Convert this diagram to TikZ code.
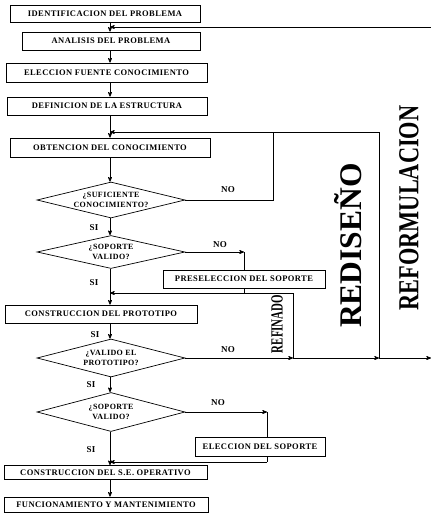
\documentclass[tikz,border=0pt]{standalone}
\usepackage{fontspec}
\setmainfont{Liberation Serif}
\newfontfamily\scanfont[LetterSpace=5]{Liberation Serif}
\usetikzlibrary{arrows,positioning,shapes,calc}

\begin{document}
\begin{tikzpicture}[->,>=stealth',x=1pt,y=-1pt,line width=0.7pt,
                    font=\scanfont\bfseries\fontsize{8.5}{9}\selectfont]
  \tikzstyle{etapa}=[draw,rectangle,inner sep=0pt,minimum height=18pt]
  \tikzstyle{pregunta}=[draw,diamond,aspect=4,inner sep=-3pt,minimum width=148pt,
                        minimum height=36pt,align=center,
                        font=\scanfont\bfseries\fontsize{8}{9.5}\selectfont]
  \tikzstyle{rotulo}=[inner sep=0pt,font=\scanfont\bfseries\fontsize{9}{9}\selectfont]
  \tikzstyle{lazo}=[inner sep=0pt,rotate=90]

  \useasboundingbox (0,0) rectangle (431,517);
  \coordinate (eje) at (110,0);

  % etapas y preguntas
  \node[etapa,minimum width=190pt,minimum height=17pt] (ident)      at (105,13.5)  {IDENTIFICACION DEL PROBLEMA};
  \node[etapa,minimum width=178pt]                     (analisis)   at (111,41)    {ANALISIS DEL PROBLEMA};
  \node[etapa,minimum width=201pt,minimum height=19pt] (fuente)     at (106.5,72.5){ELECCION FUENTE CONOCIMIENTO};
  \node[etapa,minimum width=200pt]                     (estructura) at (107,106)   {DEFINICION DE LA ESTRUCTURA};
  \node[etapa,minimum width=200pt,minimum height=19pt] (obtencion)  at (110,147.5) {OBTENCION DEL CONOCIMIENTO};
  \node[pregunta]                                      (suf)        at (111,200)   {¿SUFICIENTE\\CONOCIMIENTO?};
  \node[pregunta,minimum height=33pt]                  (sop1)       at (111,252)   {¿SOPORTE\\VALIDO?};
  \node[etapa,minimum width=162pt]                     (pres)       at (244,279)   {PRESELECCION DEL SOPORTE};
  \node[etapa,minimum width=192pt]                     (prototipo)  at (101,314)   {CONSTRUCCION DEL PROTOTIPO};
  \node[pregunta,minimum height=38pt]                  (valido)     at (111,358)   {¿VALIDO EL\\PROTOTIPO?};
  \node[pregunta,minimum height=39pt]                  (sop2)       at (111,412)   {¿SOPORTE\\VALIDO?};
  \node[etapa,minimum width=130pt,minimum height=19pt] (soporte)    at (260,446.5) {ELECCION DEL SOPORTE};
  \node[etapa,minimum width=203pt,minimum height=14pt] (operativo)  at (105.5,472.5){CONSTRUCCION DEL S.E. OPERATIVO};
  \node[etapa,minimum width=204pt,minimum height=15pt] (funcion)    at (106,504.5) {FUNCIONAMIENTO Y MANTENIMIENTO};

  % rotulos
  \node[rotulo] (no1) at (228,190) {NO};
  \node[rotulo] (no2) at (220,245) {NO};
  \node[rotulo] (no3) at (228,350) {NO};
  \node[rotulo] (no4) at (218,403) {NO};
  \node[rotulo] (si1) at (94,228) {SI};
  \node[rotulo] (si2) at (94,283) {SI};
  \node[rotulo] (si3) at (95,335) {SI};
  \node[rotulo] (si4) at (91,385) {SI};
  \node[rotulo] (si5) at (91,450) {SI};
  \node[lazo,font=\bfseries\fontsize{17}{17}\selectfont]  (refinado) at (277,324) {\scalebox{0.64}[1]{REFINADO}};
  \node[lazo,font=\bfseries\fontsize{31.5}{32}\selectfont](rediseno) at (348,245.5) {REDISEÑO};
  \node[lazo,font=\bfseries\fontsize{29}{29}\selectfont]  (reform)   at (409,208) {\scalebox{0.77}[1]{REFORMULACION}};

  % puntos de retorno
  \coordinate (cReform) at (431,27);
  \coordinate (cSalida) at (431,358);
  \coordinate (cRed)    at (379,132);
  \coordinate (cSuf)    at (273,132);
  \coordinate (cRef)    at (293,293);
  \coordinate (cEle)    at (267,462);

  % flujo principal
  \draw (ident.south -| eje) -- (analisis.north -| eje);
  \draw (cReform) -- (cReform -| eje);
  \draw (analisis.south -| eje) -- (fuente.north -| eje);
  \draw (fuente.south -| eje) -- (estructura.north -| eje);
  \draw (estructura.south -| eje) -- (obtencion.north -| eje);
  \draw (cRed) -- (cRed -| eje);
  \draw (obtencion.south -| eje) -- (suf.north -| eje);
  \draw[-] (suf.east) -| (cSuf);
  \draw (suf.south -| eje) -- (sop1.north -| eje);
  \draw (sop1.east) -- (sop1.east -| pres.north);
  \draw[-] (sop1.east -| pres.north) -- (pres.north);
  \draw[-] (pres.south) -- (pres.south |- cRef);
  \draw (cRef) -- (cRef -| eje);
  \draw (sop1.south -| eje) -- (prototipo.north -| eje);
  \draw (prototipo.south -| eje) -- (valido.north -| eje);
  \draw (valido.east) -- (valido.east -| cRef);
  \draw (valido.east -| cRef) -- (valido.east -| cRed);
  \draw (valido.east -| cRed) -- (cSalida);
  \draw[-] (valido.east -| cRef) -- (cRef);
  \draw[-] (valido.east -| cRed) -- (cRed);
  \draw (valido.south -| eje) -- (sop2.north -| eje);
  \draw (sop2.east) -- (sop2.east -| cEle);
  \draw[-] (sop2.east -| cEle) -- (soporte.north -| cEle);
  \draw[-] (soporte.south -| cEle) -- (cEle);
  \draw (cEle) -- (cEle -| eje);
  \draw (sop2.south -| eje) -- (operativo.north -| eje);
  \draw (operativo.south -| eje) -- (funcion.north -| eje);

\end{tikzpicture}
\end{document}
